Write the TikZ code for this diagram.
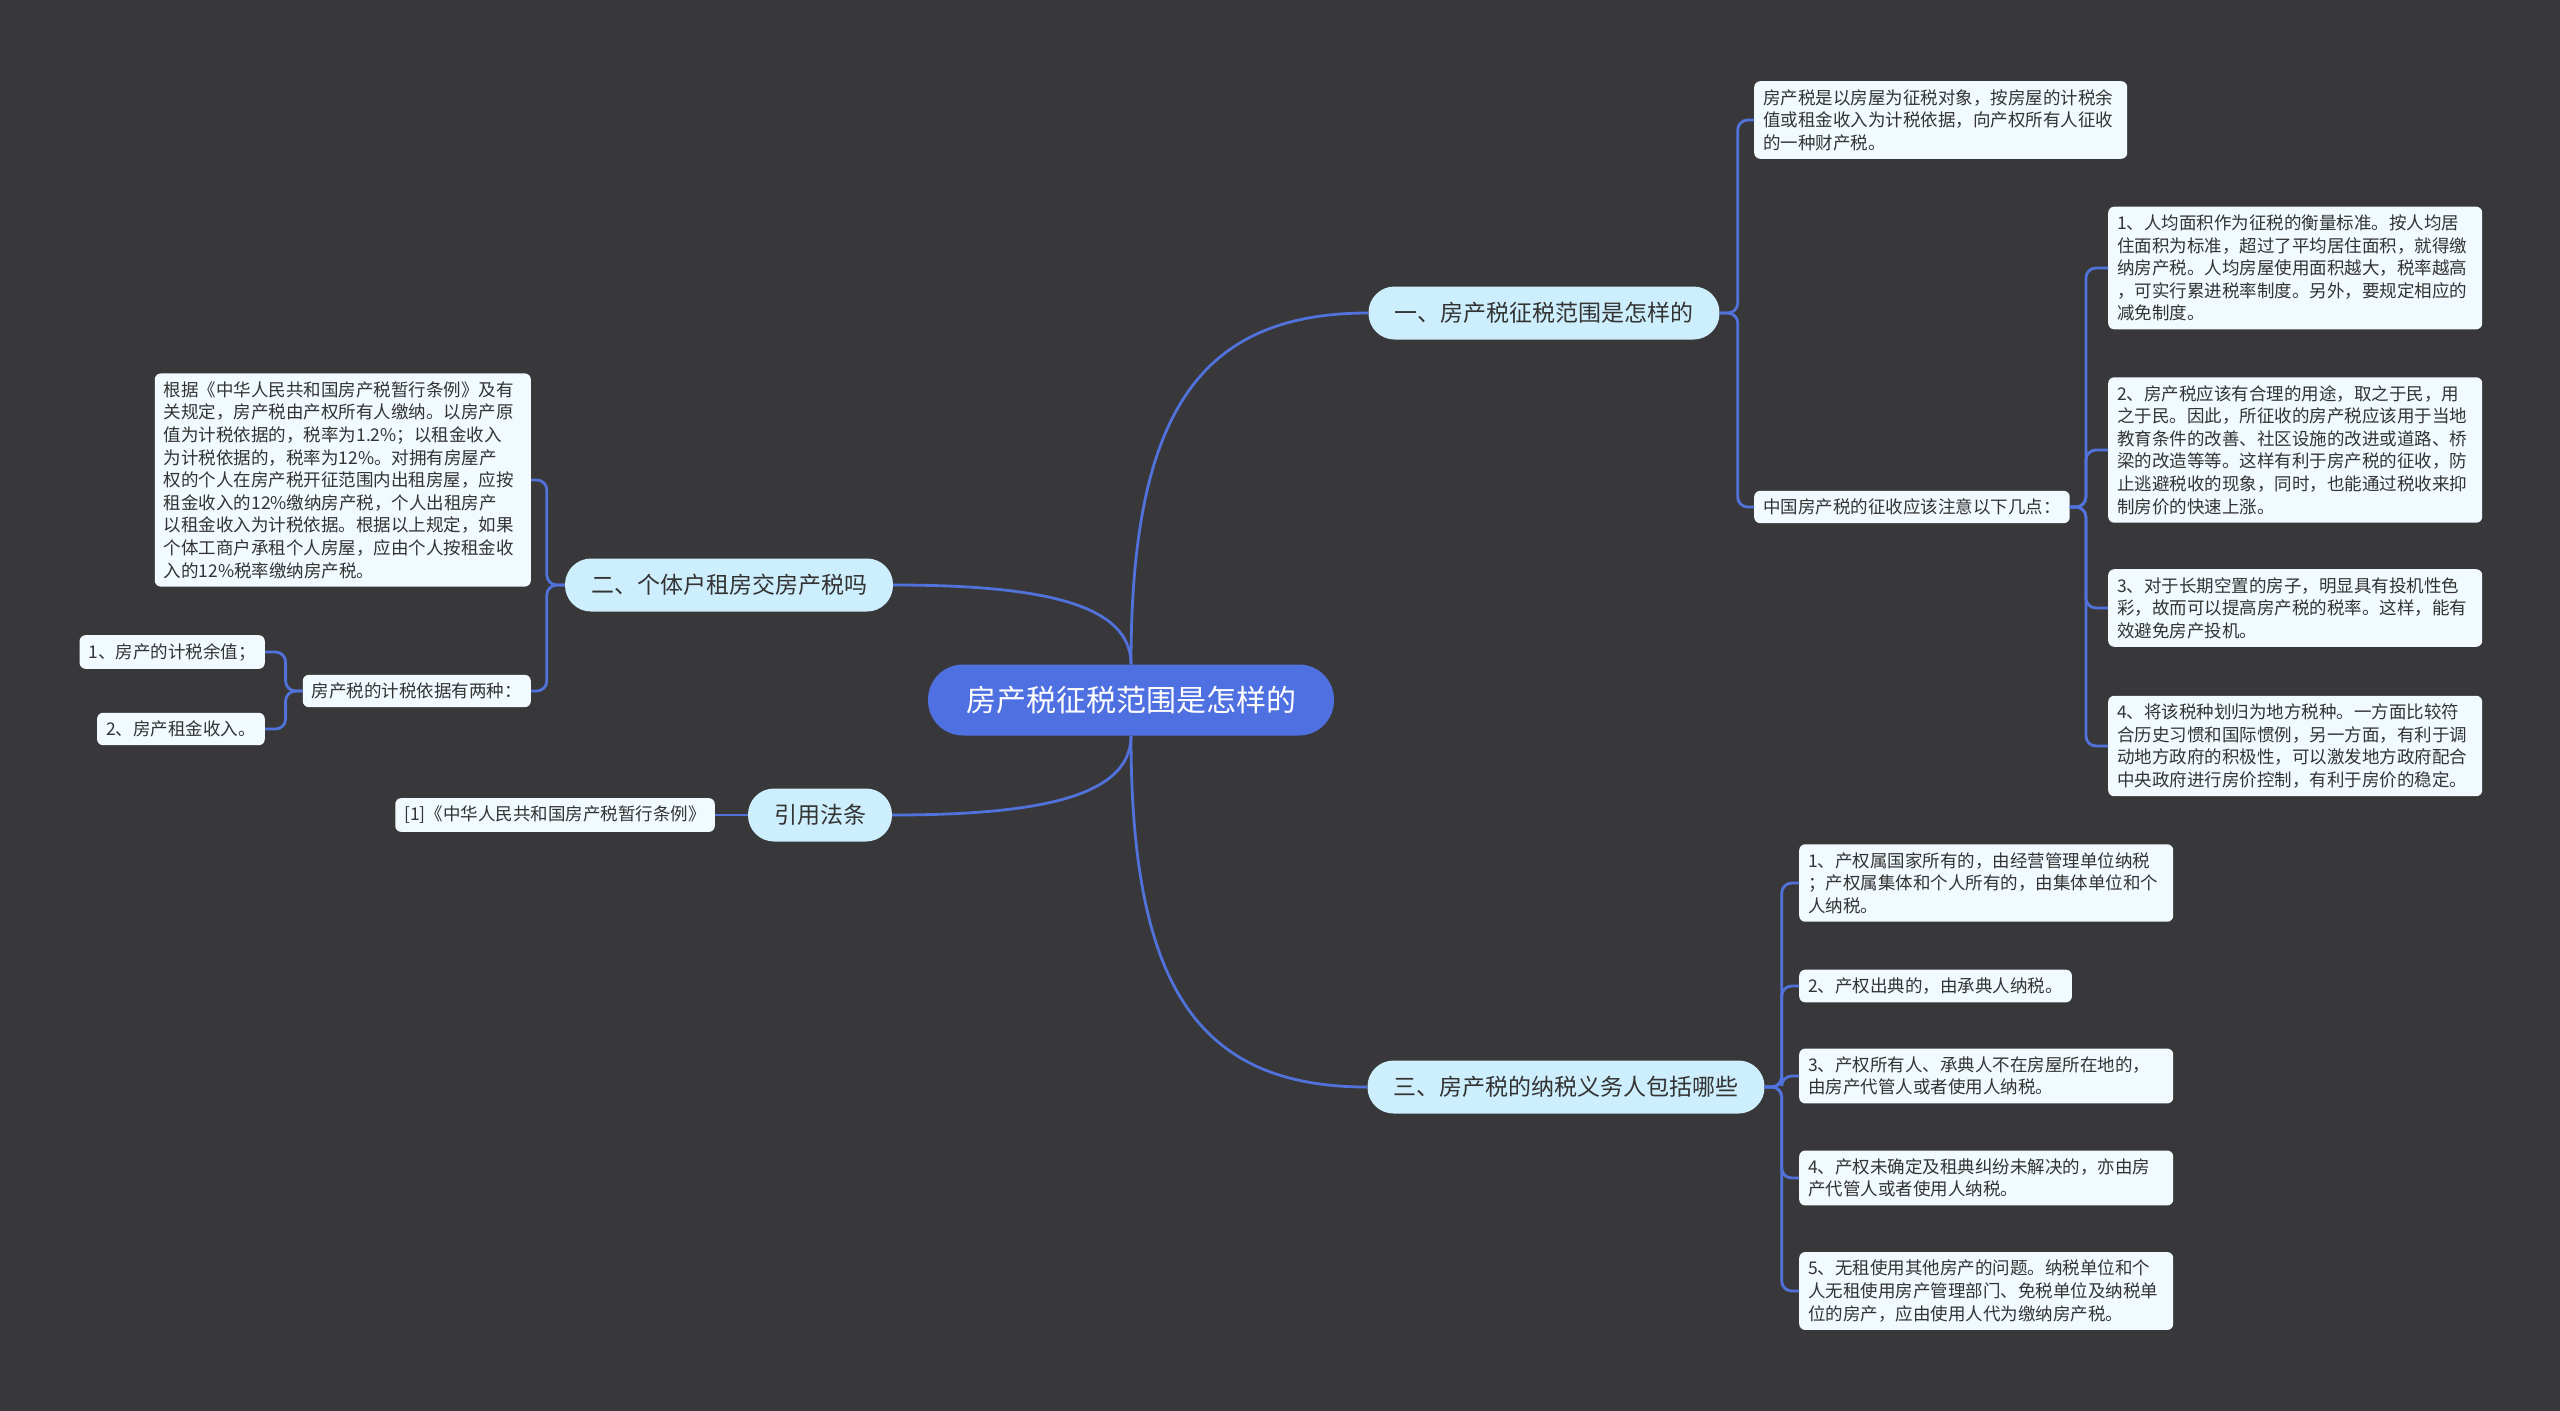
\documentclass[tikz,border=0pt]{standalone}
\usepackage{fontspec}
\newfontfamily\cjk{Noto Sans CJK SC}
\usetikzlibrary{positioning}
\definecolor{bgdark}{HTML}{38383A}
\definecolor{linkblue}{HTML}{5272DB}
\definecolor{rootblue}{HTML}{4F70E0}
\definecolor{topicfill}{HTML}{CDEEFC}
\definecolor{leaffill}{HTML}{F1FAFE}
\definecolor{inktext}{HTML}{333333}
\tikzset{
  rootbox/.style={fill=rootblue, text=white, rounded corners=35pt, minimum height=71pt, inner xsep=38pt, font=\cjk\fontsize{30}{36}\selectfont},
  topicbox/.style={fill=topicfill, text=inktext, rounded corners=26pt, minimum height=53pt, inner xsep=26pt, font=\cjk\fontsize{23}{28}\selectfont},
  leafbox/.style={fill=leaffill, text=inktext, rounded corners=6pt, inner xsep=9pt, inner ysep=8pt, align=left, font=\cjk\fontsize{17.5}{22.6}\selectfont},
  branch/.style={draw=linkblue, line width=2.8pt},
  bracket/.style={branch, rounded corners=10pt},
}
\begin{document}
\begin{tikzpicture}[x=1pt, y=-1pt]
  \fill[bgdark] (0,0) rectangle (2560,1411);
  \useasboundingbox (0,0) rectangle (2560,1411);

  % centre and main topics
  \node[rootbox] (root) at (1131,700) {房产税征税范围是怎样的};
  \node[topicbox] (scope) at (1544,313) {一、房产税征税范围是怎样的};
  \node[topicbox] (payer) at (1566,1087) {三、房产税的纳税义务人包括哪些};
  \node[topicbox] (rent) at (729,585) {二、个体户租房交房产税吗};
  \node[topicbox] (law) at (820,815) {引用法条};

  % topic one
  \node[leafbox, text width=355pt, anchor=west] (def) at (1754,120) {房产税是以房屋为征税对象，按房屋的计税余\\值或租金收入为计税依据，向产权所有人征收\\的一种财产税。};
  \node[leafbox, anchor=west] (notes) at (1754,507) {中国房产税的征收应该注意以下几点：};
  \node[leafbox, text width=356pt, anchor=west] (noteA) at (2108,268) {1、人均面积作为征税的衡量标准。按人均居\\住面积为标准，超过了平均居住面积，就得缴\\纳房产税。人均房屋使用面积越大，税率越高\\，可实行累进税率制度。另外，要规定相应的\\减免制度。};
  \node[leafbox, text width=356pt, anchor=west] (noteB) at (2108,450) {2、房产税应该有合理的用途，取之于民，用\\之于民。因此，所征收的房产税应该用于当地\\教育条件的改善、社区设施的改进或道路、桥\\梁的改造等等。这样有利于房产税的征收，防\\止逃避税收的现象，同时，也能通过税收来抑\\制房价的快速上涨。};
  \node[leafbox, text width=356pt, anchor=west] (noteC) at (2108,608) {3、对于长期空置的房子，明显具有投机性色\\彩，故而可以提高房产税的税率。这样，能有\\效避免房产投机。};
  \node[leafbox, text width=356pt, anchor=west] (noteD) at (2108,746) {4、将该税种划归为地方税种。一方面比较符\\合历史习惯和国际惯例，另一方面，有利于调\\动地方政府的积极性，可以激发地方政府配合\\中央政府进行房价控制，有利于房价的稳定。};

  % topic three
  \node[leafbox, text width=356pt, anchor=west] (payA) at (1799,883) {1、产权属国家所有的，由经营管理单位纳税\\；产权属集体和个人所有的，由集体单位和个\\人纳税。};
  \node[leafbox, anchor=west] (payB) at (1799,986) {2、产权出典的，由承典人纳税。};
  \node[leafbox, text width=356pt, anchor=west] (payC) at (1799,1076) {3、产权所有人、承典人不在房屋所在地的，\\由房产代管人或者使用人纳税。};
  \node[leafbox, text width=356pt, anchor=west] (payD) at (1799,1178) {4、产权未确定及租典纠纷未解决的，亦由房\\产代管人或者使用人纳税。};
  \node[leafbox, text width=356pt, anchor=west] (payE) at (1799,1291) {5、无租使用其他房产的问题。纳税单位和个\\人无租使用房产管理部门、免税单位及纳税单\\位的房产，应由使用人代为缴纳房产税。};

  % topic two
  \node[leafbox, text width=358pt, anchor=east] (rule) at (531,480) {根据《中华人民共和国房产税暂行条例》及有\\关规定，房产税由产权所有人缴纳。以房产原\\值为计税依据的，税率为1.2\%；以租金收入\\为计税依据的，税率为12\%。对拥有房屋产\\权的个人在房产税开征范围内出租房屋，应按\\租金收入的12\%缴纳房产税，个人出租房产\\以租金收入为计税依据。根据以上规定，如果\\个体工商户承租个人房屋，应由个人按租金收\\入的12\%税率缴纳房产税。};
  \node[leafbox, anchor=east] (basis) at (531,691) {房产税的计税依据有两种：};
  \node[leafbox, anchor=east] (basisA) at (265,652) {1、房产的计税余值；};
  \node[leafbox, anchor=east] (basisB) at (265,729) {2、房产租金收入。};

  % citation
  \node[leafbox, anchor=east] (ref) at (715,815) {[1]《中华人民共和国房产税暂行条例》};

  % links from the centre
  \draw[branch] (root.north) .. controls +(0,-250) and +(-170,0) .. (scope.west);
  \draw[branch] (root.north) .. controls +(0,-60) and +(150,0) .. (rent.east);
  \draw[branch] (root.south) .. controls +(0,60) and +(150,0) .. (law.east);
  \draw[branch] (root.south) .. controls +(0,250) and +(-170,0) .. (payer.west);

  % brackets
  \foreach \leaf in {def,notes}
    \draw[bracket] (scope.east) -- ++(18,0) |- (\leaf.west);
  \foreach \leaf in {noteA,noteB,noteC,noteD}
    \draw[bracket] (notes.east) -- ++(16,0) |- (\leaf.west);
  \foreach \leaf in {payA,payB,payC,payD,payE}
    \draw[bracket] (payer.east) -- ++(17,0) |- (\leaf.west);
  \foreach \leaf in {rule,basis}
    \draw[bracket] (rent.west) -- ++(-18,0) |- (\leaf.east);
  \foreach \leaf in {basisA,basisB}
    \draw[bracket] (basis.west) -- ++(-17,0) |- (\leaf.east);
  \draw[branch] (law.west) -- (ref.east);
\end{tikzpicture}
\end{document}
